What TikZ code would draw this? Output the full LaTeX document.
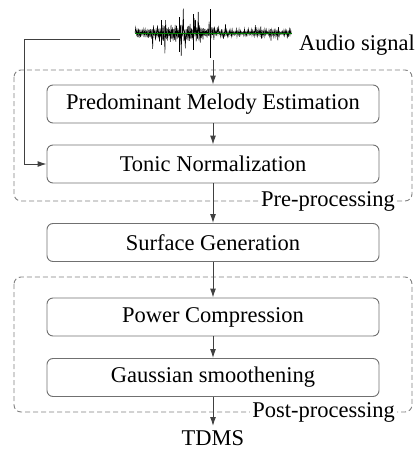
\documentclass[tikz,border=0pt]{standalone}
\usepackage{fontspec}
\setmainfont{Liberation Serif}
\usetikzlibrary{arrows.meta}
\definecolor{linec}{HTML}{404040}
\definecolor{boxc}{HTML}{707070}
\definecolor{dashc}{HTML}{808080}
\tikzset{
  stage/.style={draw=boxc, line width=0.9pt, rounded corners=6pt, minimum width=332pt, minimum height=38pt, inner sep=0pt, font=\fontsize{22.5}{26}\selectfont},
  grp/.style={draw=dashc, dashed, dash pattern=on 5pt off 3pt, line width=0.9pt, rounded corners=7pt},
  conn/.style={draw=linec, line width=1pt, -{Latex[length=9pt,width=6pt]}},
  lbl/.style={font=\fontsize{22.5}{26}\selectfont, inner sep=1pt},
  grplbl/.style={font=\fontsize{22.5}{26}\selectfont, fill=white, inner sep=2pt}
}
\begin{document}
\begin{tikzpicture}[x=1pt,y=-1pt]
\useasboundingbox (0,0) rectangle (416,450);
% dashed groups
\draw[grp] (14,70) rectangle (412,201);
\draw[grp] (14,277) rectangle (412,412);
% waveform as a continuous zigzag
\pgfmathsetseed{11}
\def\wpath{(135,33)}
\foreach \i in {1,...,230}{
  \pgfmathsetmacro{\xx}{135+\i*0.68}
  \pgfmathsetmacro{\env}{\xx<150 ? 7 : (\xx<170 ? 11 : (\xx<205 ? 13 : (\xx<215 ? 9 : 5)))}
  \pgfmathsetmacro{\r}{rnd}
  \pgfmathsetmacro{\amp}{\env*(\r<0.9 ? 0.2+0.6*rnd : 1.0+0.9*rnd)}
  \pgfmathsetmacro{\sgn}{mod(\i,2)==0 ? 1 : -1}
  \xdef\wpath{\wpath -- (\xx,{33+\sgn*\amp})}
}
\draw[black, line width=0.5pt, line join=miter] \wpath;
\draw[black, line width=0.6pt] (210,9) -- (210,58);
\draw[black, line width=0.6pt] (193,14) -- (193,50);
\draw[black, line width=0.5pt] (179,17) -- (179,52);
\draw[black, line width=0.5pt] (161,20) -- (161,45);
\draw[green!50!black, line width=0.5pt] (135,33) -- (292,33);
\coordinate (wav) at (213,60);
\coordinate (fb) at (120,39);
\node[lbl, anchor=base west] (audio) at (298,50) {Audio signal};
% stages
\node[stage] (pme) at (213,104) {Predominant Melody Estimation};
\node[stage] (tn) at (213,164) {Tonic Normalization};
\node[stage] (sg) at (213,242.5) {Surface Generation};
\node[stage] (pc) at (213,317) {Power Compression};
\node[stage] (gs) at (213,377.5) {Gaussian smoothening};
\node[lbl, anchor=base, inner sep=0pt] (tdms) at (213,445) {TDMS};
\coordinate (tdmsin) at (213,426);
% connectors
\draw[conn] (wav) -- (pme.north);
\draw[conn] (pme) -- (tn);
\draw[conn] (tn) -- (sg);
\draw[conn] (sg) -- (pc);
\draw[conn] (pc) -- (gs);
\draw[conn] (gs.south) -- (tdmsin);
\draw[conn] (fb) -- (24,39) |- (tn.west);
% group labels
\node[grplbl, anchor=east] (pre) at (397,201) {Pre-processing};
\node[grplbl, anchor=east] (post) at (397,412) {Post-processing};
\end{tikzpicture}
\end{document}
